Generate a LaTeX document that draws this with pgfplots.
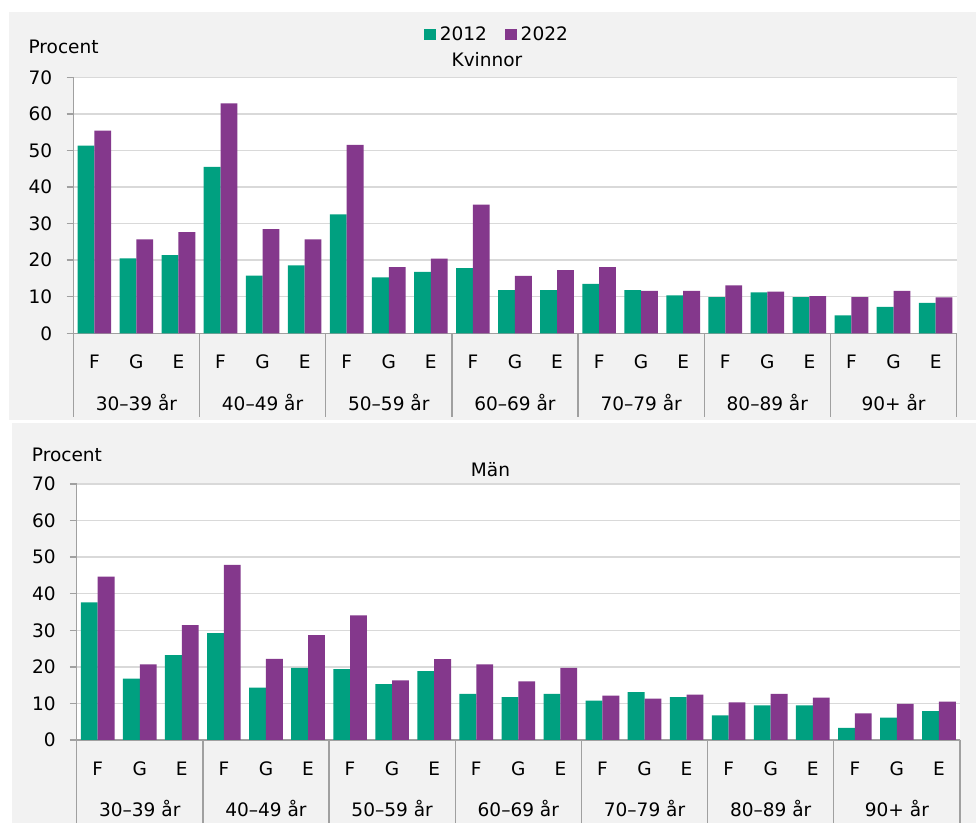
\documentclass[border=0pt]{standalone}
\usepackage{fontspec}
\setmainfont{DejaVu Sans}
\usepackage{pgfplots}
\usepackage{pgfplotstable}
\pgfplotsset{compat=1.18}

\definecolor{c2012}{RGB}{0,160,128}
\definecolor{c2022}{RGB}{132,56,140}
\definecolor{panelbg}{RGB}{242,242,242}
\definecolor{gridc}{RGB}{217,217,217}
\definecolor{axc}{RGB}{160,160,160}

% x: F/G/E within each age group, 0..20
\pgfplotstableread{
x  k12  k22  m12  m22
0  51.3 55.4 37.6 44.7
1  20.5 25.7 16.8 20.7
2  21.4 27.7 23.2 31.4
3  45.5 62.9 29.2 47.9
4  15.8 28.5 14.3 22.2
5  18.6 25.7 19.7 28.7
6  32.5 51.5 19.4 34.1
7  15.3 18.1 15.3 16.3
8  16.8 20.4 18.8 22.1
9  17.8 35.2 12.6 20.7
10 11.8 15.7 11.7 16.0
11 11.8 17.3 12.6 19.7
12 13.5 18.1 10.8 12.1
13 11.8 11.6 13.1 11.3
14 10.4 11.6 11.7 12.4
15  9.9 13.1  6.7 10.3
16 11.2 11.4  9.5 12.6
17  9.9 10.2  9.5 11.6
18  4.9  9.9  3.3  7.3
19  7.2 11.6  6.1  9.9
20  8.3  9.8  7.9 10.5
}\data

\pgfplotsset{
  panel/.style={
    scale only axis,
    width=662.5pt, height=192pt,
    anchor=south west,
    xmin=-0.5, xmax=20.5, ymin=0, ymax=70,
    ytick={0,10,...,70},
    xtick={0,...,20},
    xticklabels={F,G,E,F,G,E,F,G,E,F,G,E,F,G,E,F,G,E,F,G,E},
    axis x line*=bottom, axis y line*=left,
    axis line style={draw=axc, line width=1pt, -},
    ymajorgrids,
    grid style={draw=gridc, line width=1pt},
    tick align=outside,
    major tick length=5pt,
    ytick style={draw=axc, line width=1pt},
    xtick style={draw=none},
    /pgf/number format/assume math mode=true,
    ticklabel style={font=\fontsize{13.9}{16}\selectfont},
    yticklabel style={anchor=east, inner sep=0pt, xshift=-10.6pt},
    xticklabel style={anchor=base, inner sep=0pt, yshift=-21.4pt},
    axis background/.style={fill=white},
    ybar, bar width=0.4,
    clip=false,
    y label style={rotate=-90, anchor=base west, inner sep=0pt},
    title style={anchor=base, inner sep=0pt},
    legend image code/.code={\fill[##1] (0pt,-4.4pt) rectangle (8.8pt,4.4pt);},
  },
}

% group separators and age-group labels under the F/G/E row
\newcommand\groupaxis{%
  \foreach \s in {-0.5,2.5,5.5,8.5,11.5,14.5,17.5,20.5}{%
    \edef\tmp{\noexpand\draw[axc, line width=1pt] (axis cs:\s,0) -- ++(0pt,-63pt);}\tmp}
  \node[anchor=base, yshift=-57.6pt] at (axis cs:1,0) {30–39 år};
  \node[anchor=base, yshift=-57.6pt] at (axis cs:4,0) {40–49 år};
  \node[anchor=base, yshift=-57.6pt] at (axis cs:7,0) {50–59 år};
  \node[anchor=base, yshift=-57.6pt] at (axis cs:10,0) {60–69 år};
  \node[anchor=base, yshift=-57.6pt] at (axis cs:13,0) {70–79 år};
  \node[anchor=base, yshift=-57.6pt] at (axis cs:16,0) {80–89 år};
  \node[anchor=base, yshift=-57.6pt] at (axis cs:19,0) {90+ år};
}

\begin{document}
\begin{tikzpicture}[font=\fontsize{13.9}{16}\selectfont]
\useasboundingbox (0pt,0pt) rectangle (732pt,-617.25pt);
\fill[panelbg] (6.75pt,-9pt) rectangle (732pt,-315pt);
\fill[panelbg] (9pt,-317.25pt) rectangle (732pt,-617.25pt);

% Kvinnor
\begin{axis}[panel,
    at={(54.98pt,-249.98pt)},
    ylabel={Procent},
    y label style={at={(-0.0509,1.0927)}},
    title={Kvinnor},
    title style={at={(0.4683,1.0118)}},
    legend columns=2,
    legend style={at={(0.4785,1.1671)}, anchor=center, draw=none, fill=none,
      inner sep=0pt, nodes={inner sep=0pt},
      /tikz/every odd column/.append style={column sep=3pt},
      /tikz/every even column/.append style={column sep=13.5pt}},
  ]
  \addplot[fill=c2012, draw=none, bar shift=-0.2] table[x=x, y=k12] {\data};
  \addplot[fill=c2022, draw=none, bar shift=0.2] table[x=x, y=k22] {\data};
  \legend{2012,2022}
  \groupaxis
\end{axis}

% Män
\begin{axis}[panel,
    at={(57.5pt,-555pt)},
    ylabel={Procent},
    y label style={at={(-0.0509,1.0898)}},
    title={Män},
    title style={at={(0.4685,0.9972)}},
  ]
  \addplot[fill=c2012, draw=none, bar shift=-0.2] table[x=x, y=m12] {\data};
  \addplot[fill=c2022, draw=none, bar shift=0.2] table[x=x, y=m22] {\data};
  \groupaxis
\end{axis}
\end{tikzpicture}
\end{document}
